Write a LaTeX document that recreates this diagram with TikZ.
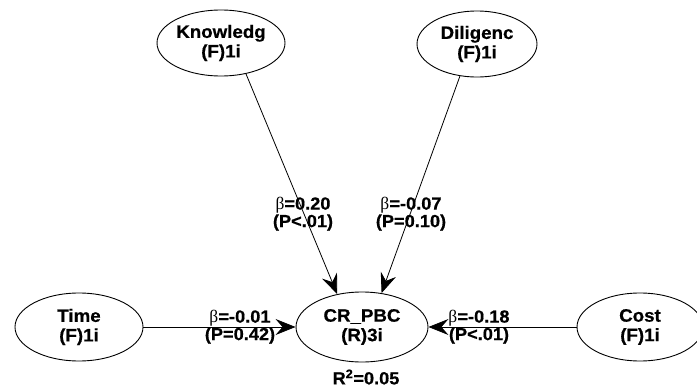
\documentclass[tikz,border=0pt]{standalone}
\usepackage{fontspec}
\setmainfont{Liberation Sans}[FakeStretch=1.04,BoldFeatures={FakeBold=0.6}]
\newfontfamily\grk{Liberation Serif}
\usetikzlibrary{shapes.geometric,arrows.meta}
\begin{document}
\begin{tikzpicture}[x=1pt,y=-1pt,
  lat/.style={ellipse,draw,line width=0.9pt,inner sep=0pt,align=center,font=\bfseries\fontsize{18}{19.5}\selectfont},
  lbl/.style={align=center,inner sep=0pt,font=\bfseries\fontsize{17.5}{17.5}\selectfont},
  conn/.style={line width=0.8pt,-{Stealth[length=20pt,width=16pt,inset=7pt]}}]
\useasboundingbox (0,0) rectangle (697,388);
\fill[white] (0,0) rectangle (697,388);
\clip (0,0) rectangle (697,388);
\node[lat,minimum width=128pt,minimum height=66pt] (K) at (221,43) {Knowledg\\(F)1i};
\node[lat,minimum width=120pt,minimum height=66pt] (D) at (477,44) {Diligenc\\(F)1i};
\node[lat,minimum width=132pt,minimum height=70pt] (C) at (362,327) {CR\_PBC\\(R)3i};
\node[lat,minimum width=128pt,minimum height=68pt] (T) at (79,327) {Time\\(F)1i};
\node[lat,minimum width=126pt,minimum height=68pt] (S) at (640,327) {Cost\\(F)1i};
\draw[conn] (K.-51) -- (C.127);
\draw[conn] (D.-118) -- (C.60);
\draw[conn] (T.east) -- (C.west);
\draw[conn] (S.west) -- (C.east);
\node[lbl] (l1) at (303,214) {{\grk\mdseries β}=0.20\\(P<.01)};
\node[lbl] (l2) at (411,214) {{\grk\mdseries β}=-0.07\\(P=0.10)};
\node[lbl] (l3) at (240,327) {{\grk\mdseries β}=-0.01\\(P=0.42)};
\node[lbl] (l4) at (479,327) {{\grk\mdseries β}=-0.18\\(P<.01)};
\node[lbl] (r2) at (366,377) {R\textsuperscript{2}=0.05};
\end{tikzpicture}
\end{document}
